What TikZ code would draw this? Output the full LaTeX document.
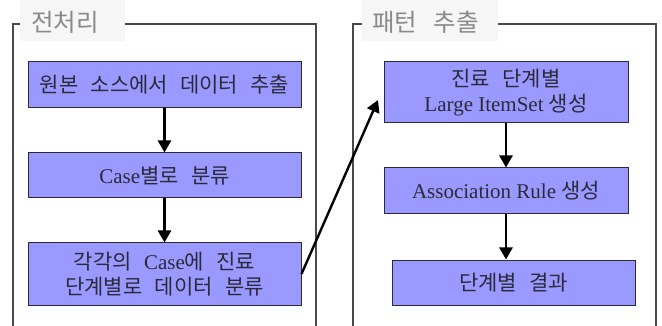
\documentclass[tikz,border=0pt]{standalone}
\usepackage{fontspec}
\setmainfont{Liberation Serif}
\newfontfamily\kr{Noto Sans CJK KR}[Scale=1.0,WordSpace=2.6]
\newfontfamily\krt{Noto Sans CJK KR}[WordSpace=3]
\usetikzlibrary{arrows.meta}
\definecolor{boxfill}{HTML}{9999FF}
\definecolor{boxtext}{HTML}{2A2A3A}
\definecolor{titlebg}{HTML}{F6F6F6}
\definecolor{titletext}{HTML}{8A8A8A}
\definecolor{frameline}{HTML}{4A4A4A}
\begin{document}
\begin{tikzpicture}[x=1pt,y=-1pt,
  flowbox/.style={draw=boxtext,line width=1pt,fill=boxfill,text=boxtext,
    rectangle,inner sep=0pt,align=center,font=\fontsize{21}{25}\selectfont},
  frame/.style={draw=frameline,line width=1.3pt},
  flowarrow/.style={draw=black,line width=2.4pt,-{Triangle[width=13pt,length=12pt]}},
  titlelabel/.style={text=titletext,font=\krt\fontsize{24.5}{27}\selectfont,inner sep=0pt}]
\useasboundingbox (0,0) rectangle (662,326);
% frames
\fill[titlebg] (20,0) rectangle (125,41);
\fill[titlebg] (362,0) rectangle (498,41);
\draw[frame] (20,24) -- (13,24) -- (13,326);
\draw[frame] (125,24) -- (316,24) -- (316,326);
\draw[frame] (362,24) -- (353,24) -- (353,326);
\draw[frame] (498,24) -- (656,24) -- (656,326);
\node[titlelabel,anchor=west] (t1) at (31,22) {전처리};
\node[titlelabel,anchor=west] (t2) at (372,22) {패턴 추출};
% left boxes
\node[flowbox,minimum width=273pt,minimum height=46pt] (b1) at (164.5,85) {{\kr 원본 소스에서 데이터 추출}};
\node[flowbox,minimum width=273pt,minimum height=45pt] (b2) at (164.5,175.5) {Case{\kr 별로 분류}};
\node[flowbox,minimum width=273pt,minimum height=62pt] (b3) at (164.5,274) {{\kr 각각의 }Case{\kr 에 진료}\\{\kr 단계별로 데이터 분류}};
% right boxes
\node[flowbox,minimum width=244pt,minimum height=61pt] (r1) at (506,92.5) {{\kr 진료 단계별}\\Large ItemSet {\kr 생성}};
\node[flowbox,minimum width=244pt,minimum height=46pt] (r2) at (506,191) {Association Rule {\kr 생성}};
\node[flowbox,minimum width=243pt,minimum height=45pt] (r3) at (513.5,282.5) {{\kr 단계별 결과}};
% arrows
\draw[flowarrow] (b1.south) -- (b2.north);
\draw[flowarrow] (b2.south) -- (b3.north);
\draw[flowarrow] (r1.south) -- (r2.north);
\draw[flowarrow] (r2.south) -- (r2.south |- r3.north);
\coordinate (tip) at (378,100);
\draw[flowarrow] (b3.east) -- (tip);
\end{tikzpicture}
\end{document}
